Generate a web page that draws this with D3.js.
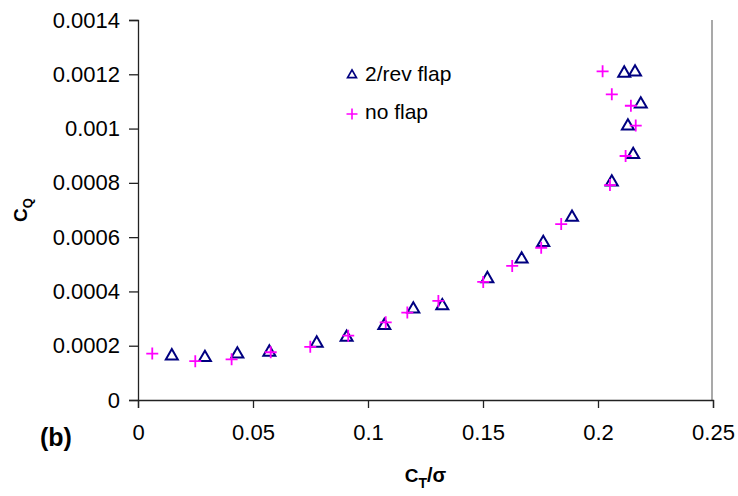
<!DOCTYPE html>
<html>
<head>
<meta charset="utf-8">
<script src="https://cdn.jsdelivr.net/npm/d3@7"></script>
<style>
  html, body { margin: 0; padding: 0; background: #fff; }
  svg { display: block; }
  text { font-family: "Liberation Sans", Arial, sans-serif; }
</style>
</head>
<body>
<svg id="chart" width="738" height="496"></svg>
<script>
// ---- data ----
const flapX = [0.0147, 0.0291, 0.0432, 0.0571, 0.0777, 0.0907, 0.1071, 0.1197, 0.1323, 0.1519, 0.1668, 0.1762, 0.1887, 0.2060, 0.2153, 0.2130, 0.2186, 0.2114, 0.2161];
const flapY = [0.000162, 0.000156, 0.000169, 0.000176, 0.000209, 0.000231, 0.000274, 0.000335, 0.000347, 0.000447, 0.000519, 0.000580, 0.000673, 0.000803, 0.000904, 0.001009, 0.001090, 0.001204, 0.001208];
const noFlapX = [0.0062, 0.0249, 0.0407, 0.0577, 0.0749, 0.0914, 0.1077, 0.1171, 0.1306, 0.1501, 0.1627, 0.1753, 0.1840, 0.2052, 0.2120, 0.2164, 0.2143, 0.2060, 0.2020];
const noFlapY = [0.000171, 0.000143, 0.000150, 0.000176, 0.000196, 0.000237, 0.000286, 0.000322, 0.000365, 0.000435, 0.000494, 0.000561, 0.000648, 0.000792, 0.000899, 0.001011, 0.001084, 0.001126, 0.001211];
const xTicks = [0, 0.05, 0.1, 0.15, 0.2, 0.25];
const xTickLabels = ["0", "0.05", "0.1", "0.15", "0.2", "0.25"];
const yTicks = [0, 0.0002, 0.0004, 0.0006, 0.0008, 0.001, 0.0012, 0.0014];
const yTickLabels = ["0", "0.0002", "0.0004", "0.0006", "0.0008", "0.001", "0.0012", "0.0014"];
const seriesNames = ["2/rev flap", "no flap"];

// ---- layout ----
const svg = d3.select("#chart");
const plotLeft = 138, plotRight = 713, plotTop = 20, plotBottom = 400;
const x = d3.scaleLinear().domain([0, 0.25]).range([plotLeft, plotRight]);
const y = d3.scaleLinear().domain([0, 0.0014]).range([plotBottom, plotTop]);
const axisColor = "#222";
const navy = "#000080", magenta = "#FF00FF";

// right border of plot area
svg.append("line")
  .attr("x1", x(0.25) - 1).attr("x2", x(0.25) - 1)
  .attr("y1", y(0.0014)).attr("y2", y(0))
  .attr("stroke", "#8c8c8c").attr("stroke-width", 1.5);

// x axis
const xAxis = svg.append("g").attr("transform", `translate(0,${plotBottom})`)
  .call(d3.axisBottom(x).tickValues(xTicks).tickFormat((d, i) => xTickLabels[i]).tickSizeOuter(0).tickSize(8).tickPadding(16));
xAxis.select(".domain").attr("stroke", axisColor).attr("stroke-width", 1.3);
xAxis.selectAll(".tick line").attr("stroke", axisColor).attr("stroke-width", 1.3);
xAxis.selectAll(".tick text").attr("font-size", 22).attr("fill", "#000")
  .attr("font-family", "'Liberation Sans', Arial, sans-serif");

// y axis
const yAxis = svg.append("g").attr("transform", `translate(${plotLeft},0)`)
  .call(d3.axisLeft(y).tickValues(yTicks).tickFormat((d, i) => yTickLabels[i]).tickSizeOuter(0).tickSize(9).tickPadding(9));
yAxis.select(".domain").attr("stroke", axisColor).attr("stroke-width", 1.3);
yAxis.selectAll(".tick line").attr("stroke", axisColor).attr("stroke-width", 1.3);
yAxis.selectAll(".tick text").attr("font-size", 22).attr("fill", "#000")
  .attr("font-family", "'Liberation Sans', Arial, sans-serif");

// axis titles
const xt = svg.append("text").attr("x", (plotLeft + plotRight) / 2).attr("y", 482)
  .attr("text-anchor", "middle").attr("font-size", 19).attr("font-weight", "bold");
xt.append("tspan").text("C");
xt.append("tspan").attr("font-size", 14).attr("dy", 6).text("T");
xt.append("tspan").attr("dy", -6).attr("font-size", 20).text("/σ");

const yt = svg.append("text").attr("transform", `translate(27,${(plotTop + plotBottom) / 2}) rotate(-90)`)
  .attr("text-anchor", "middle").attr("font-size", 19).attr("font-weight", "bold");
yt.append("tspan").text("C");
yt.append("tspan").attr("font-size", 13).attr("dy", 5).text("Q");

svg.append("text").attr("x", 40).attr("y", 446).attr("font-size", 25).attr("font-weight", "bold").text("(b)");

// ---- marks ----
const tri = d3.symbol().type(d3.symbolTriangle).size(62);
const plusPath = (s) => `M${-s},0H${s}M0,${-s}V${s}`;

svg.append("g").selectAll("path").data(flapX.map((d, i) => [d, flapY[i]]))
  .join("path")
  .attr("transform", d => `translate(${x(d[0])},${y(d[1])})`)
  .attr("d", tri())
  .attr("fill", "none").attr("stroke", navy).attr("stroke-width", 2);

svg.append("g").selectAll("path").data(noFlapX.map((d, i) => [d, noFlapY[i]]))
  .join("path")
  .attr("transform", d => `translate(${x(d[0])},${y(d[1])})`)
  .attr("d", plusPath(6))
  .attr("fill", "none").attr("stroke", magenta).attr("stroke-width", 1.8);

// ---- legend ----
const lg = svg.append("g");
lg.append("path").attr("transform", "translate(352,75)")
  .attr("d", d3.symbol().type(d3.symbolTriangle).size(34)())
  .attr("fill", "none").attr("stroke", navy).attr("stroke-width", 1.7);
lg.append("text").attr("x", 365).attr("y", 81).attr("font-size", 21).text(seriesNames[0]);
lg.append("path").attr("transform", "translate(352,114)")
  .attr("d", plusPath(5.5))
  .attr("fill", "none").attr("stroke", magenta).attr("stroke-width", 1.6);
lg.append("text").attr("x", 365).attr("y", 119).attr("font-size", 21).text(seriesNames[1]);
</script>
</body>
</html>
